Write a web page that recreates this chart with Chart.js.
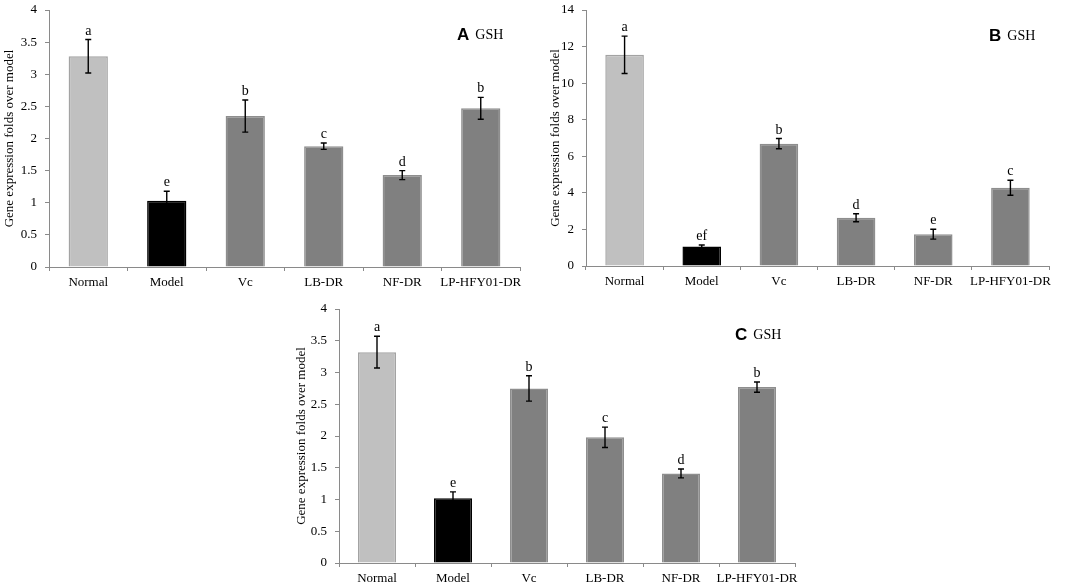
<!DOCTYPE html>
<html>
<head>
<meta charset="utf-8">
<script src="https://cdn.jsdelivr.net/npm/chart.js@4.4.1/dist/chart.umd.min.js"></script>
<style>
  html, body { margin: 0; padding: 0; background: #fff; }
  body { width: 1084px; height: 588px; position: relative; overflow: hidden; }
  .box { position: absolute; }
</style>
</head>
<body>
<div class="box" style="left:0px;top:0px;width:530px;height:292px;"><canvas id="cA"></canvas></div>
<div class="box" style="left:530px;top:0px;width:554px;height:292px;"><canvas id="cB"></canvas></div>
<div class="box" style="left:280px;top:295px;width:530px;height:293px;"><canvas id="cC"></canvas></div>
<script>
const categories = ['Normal', 'Model', 'Vc', 'LB-DR', 'NF-DR', 'LP-HFY01-DR'];

const valuesA = [3.28, 1.03, 2.35, 1.88, 1.43, 2.47];
const errorsA = [0.26, 0.15, 0.25, 0.05, 0.07, 0.17];
const lettersA = ['a', 'e', 'b', 'c', 'd', 'b'];

const valuesB = [11.55, 1.07, 6.69, 2.64, 1.74, 4.28];
const errorsB = [1.02, 0.08, 0.28, 0.22, 0.27, 0.41];
const lettersB = ['a', 'ef', 'b', 'd', 'e', 'c'];

const valuesC = [3.32, 1.02, 2.75, 1.98, 1.41, 2.77];
const errorsC = [0.25, 0.10, 0.20, 0.16, 0.07, 0.08];
const lettersC = ['a', 'e', 'b', 'c', 'd', 'b'];

const yMaxA = 4, yStepA = 0.5;
const yMaxB = 14, yStepB = 2;
const yMaxC = 4, yStepC = 0.5;

const fillColors = ['#c0c0c0', '#000000', '#808080', '#808080', '#808080', '#808080'];
const borderColors = ['#a3a3a3', '#000000', '#8e8e8e', '#8e8e8e', '#8e8e8e', '#8e8e8e'];

const SERIF = '"Liberation Serif", "Times New Roman", serif';
const SANS = '"Liberation Sans", Arial, sans-serif';

const errorBarPlugin = {
  id: 'errorBars',
  afterDatasetsDraw(chart, args, opts) {
    const { ctx, scales: { x, y }, chartArea } = chart;
    const vals = opts.values, errs = opts.errors, lets = opts.letters;
    ctx.save();
    ctx.strokeStyle = '#000';
    ctx.lineWidth = 1.4;
    ctx.fillStyle = '#000';
    ctx.font = '14px ' + SERIF;
    ctx.textAlign = 'center';
    ctx.textBaseline = 'alphabetic';
    for (let i = 0; i < vals.length; i++) {
      const cx = x.getPixelForValue(i);
      const yt = y.getPixelForValue(vals[i] + errs[i]);
      const yb = y.getPixelForValue(vals[i] - errs[i]);
      ctx.beginPath();
      ctx.moveTo(cx, yt); ctx.lineTo(cx, yb);
      ctx.moveTo(cx - 3, yt); ctx.lineTo(cx + 3, yt);
      ctx.moveTo(cx - 3, yb); ctx.lineTo(cx + 3, yb);
      ctx.stroke();
      ctx.fillText(lets[i], cx, yt - 5);
    }
    const lx = chartArea.right - opts.labelOffset;
    const ly = chartArea.top + opts.labelTop;
    ctx.textAlign = 'left';
    ctx.textBaseline = 'middle';
    ctx.font = 'bold 17px ' + SANS;
    ctx.fillText(opts.panel, lx, ly);
    const w = ctx.measureText(opts.panel).width;
    ctx.font = '14px ' + SERIF;
    ctx.fillText('GSH', lx + w + 6, ly);
    ctx.restore();
  }
};

function makeChart(id, values, errors, letters, yMax, yStep, panel, geom) {
  return new Chart(document.getElementById(id), {
    type: 'bar',
    data: {
      labels: categories,
      datasets: [{
        data: values,
        backgroundColor: fillColors,
        borderColor: borderColors,
        borderWidth: 1.5,
        barPercentage: 0.5,
        categoryPercentage: 1.0
      }]
    },
    options: {
      responsive: true,
      maintainAspectRatio: false,
      animation: false,
      devicePixelRatio: 1,
      layout: { padding: { left: geom.padLeft, right: geom.padRight, top: geom.padTop, bottom: 0 } },
      plugins: {
        legend: { display: false },
        tooltip: { enabled: false },
        errorBars: { values: values, errors: errors, letters: letters, panel: panel,
                     labelOffset: geom.labelOffset, labelTop: geom.labelTop }
      },
      scales: {
        x: {
          grid: { display: true, drawOnChartArea: false, offset: true, tickLength: 4, color: '#8a8a8a', lineWidth: 1 },
          border: { display: true, color: '#8a8a8a', width: 1 },
          ticks: { color: '#000', font: { family: SERIF, size: 13 }, padding: 4, maxRotation: 0, autoSkip: false },
          afterFit(scale) { scale.height = geom.xHeight; }
        },
        y: {
          min: 0, max: yMax,
          grid: { display: true, drawOnChartArea: false, tickLength: 4, color: '#8a8a8a', lineWidth: 1 },
          border: { display: true, color: '#8a8a8a', width: 1 },
          ticks: { stepSize: yStep, color: '#000', font: { family: SERIF, size: 13 }, padding: 8,
                   callback: (v) => String(Math.round(v * 10) / 10) },
          title: { display: true, text: 'Gene expression folds over model', color: '#000',
                   font: { family: SERIF, size: 13 }, padding: { top: 0, bottom: 0 } },
          afterFit(scale) { scale.width = geom.yWidth; scale.paddingTop = 0; scale.paddingBottom = 0; }
        }
      }
    },
    plugins: [errorBarPlugin]
  });
}

makeChart('cA', valuesA, errorsA, lettersA, yMaxA, yStepA, 'A',
  { padLeft: 2, yWidth: 47, xHeight: 25, padRight: 10, padTop: 10, labelOffset: 63, labelTop: 25 });
makeChart('cB', valuesB, errorsB, lettersB, yMaxB, yStepB, 'B',
  { padLeft: 18, yWidth: 38, xHeight: 26, padRight: 35, padTop: 10, labelOffset: 60, labelTop: 26 });
makeChart('cC', valuesC, errorsC, lettersC, yMaxC, yStepC, 'C',
  { padLeft: 14, yWidth: 45, xHeight: 25, padRight: 15, padTop: 14, labelOffset: 60, labelTop: 26 });
</script>
</body>
</html>
